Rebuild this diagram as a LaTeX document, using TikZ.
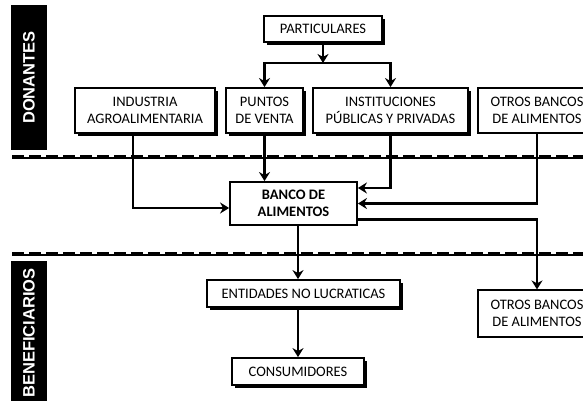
\documentclass[tikz,border=0pt]{standalone}
\usepackage{fontspec}
\setmainfont{Carlito}
\newfontfamily\barfont{Liberation Sans}
\usetikzlibrary{arrows.meta,shadows}

\begin{document}
\begin{tikzpicture}[x=1pt,y=-1pt,
  caja/.style={shape=rectangle,draw=black,line width=1.8pt,fill=white,align=center,inner sep=0pt,font=\fontsize{14.5}{17}\selectfont},
  sombra/.style={drop shadow={shadow xshift=3pt,shadow yshift=-3pt,fill=black,opacity=1}},
  barra/.style={shape=rectangle,fill=black,text=white,rotate=90,inner sep=0pt,minimum width=145,minimum height=36,font=\barfont\bfseries\fontsize{16.5}{16.5}\selectfont},
  flecha/.style={-{Stealth[length=9pt,width=11pt]},line width=2.8pt}]
\useasboundingbox (0,0) rectangle (583,401);

% separadores
\draw[line width=2.6pt] (12,158) -- (583,158);
\draw[line width=2pt,dash pattern=on 12pt off 5pt] (12,156) -- (583,156);
\draw[line width=2.6pt] (12,255) -- (583,255);
\draw[line width=2pt,dash pattern=on 12pt off 5pt] (12,253) -- (583,253);

\node[barra] (don) at (29,77.5) {DONANTES};
\node[barra] (ben) at (29,333) {BENEFICIARIOS};

\node[caja,sombra,minimum width=118,minimum height=26] (part) at (323,29) {PARTICULARES};
\node[caja,sombra,minimum width=140,minimum height=45] (ind) at (145,110.5) {INDUSTRIA\\AGROALIMENTARIA};
\node[caja,sombra,minimum width=77,minimum height=45] (pun) at (264.5,110.5) {PUNTOS\\DE VENTA};
\node[caja,sombra,minimum width=155,minimum height=45] (inst) at (390.5,110.5) {INSTITUCIONES\\PÚBLICAS Y PRIVADAS};
\node[caja,line width=1.2pt,minimum width=118,minimum height=45] (otr1) at (537,110.5) {OTROS BANCOS\\DE ALIMENTOS};

\node[caja,minimum width=127,minimum height=43,font=\bfseries\fontsize{14.5}{17}\selectfont] (banco) at (293.5,203.5) {BANCO DE\\ALIMENTOS};

\node[caja,sombra,minimum width=193,minimum height=27] (ent) at (303.5,293.5) {ENTIDADES NO LUCRATICAS};
\node[caja,sombra,minimum width=132,minimum height=27] (cons) at (298,371.5) {CONSUMIDORES};
\node[caja,line width=1.2pt,minimum width=118,minimum height=47] (otr2) at (537,313.5) {OTROS BANCOS\\DE ALIMENTOS};

% donantes
\coordinate (rep) at (323,63);
\draw[flecha] (part) -- (rep);
\draw[flecha] (rep) -| (pun);
\draw[flecha] (rep) -| (inst);
\draw[flecha] ([xshift=-12pt]ind.south) |- ([yshift=-4.5pt]banco.west);
\draw[flecha] (pun) -- (pun |- banco.north);
\draw[flecha] (inst) |- ([yshift=15.5pt]banco.east);
\draw[flecha] (otr1) |- (banco.east);

% beneficiarios
\draw[flecha] ([yshift=-16pt]banco.east) -| (otr2);
\draw[flecha] ([xshift=4.5pt]banco.south) -- ([xshift=4.5pt]banco.south |- ent.north);
\draw[flecha] (cons |- ent.south) -- (cons);
\end{tikzpicture}
\end{document}
